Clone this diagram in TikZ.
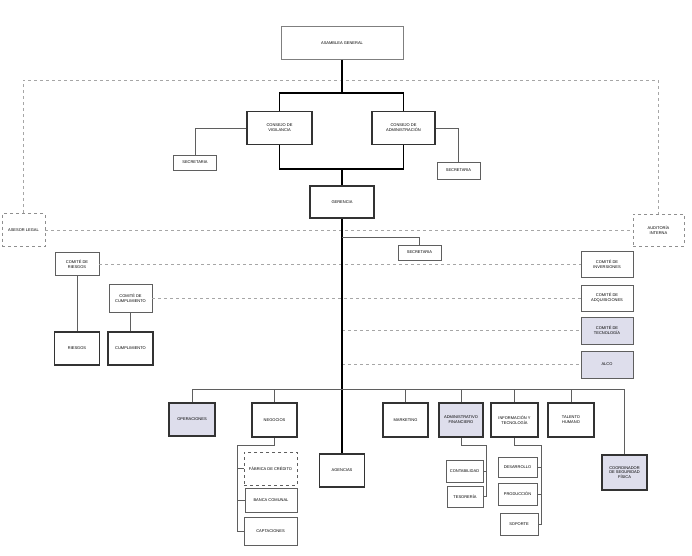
\documentclass[tikz,border=0pt]{standalone}
\usepackage{fontspec}
\setmainfont{Liberation Sans}
\usepackage{tikz}
\usetikzlibrary{calc}
\definecolor{lila}{RGB}{222,222,236}
\definecolor{gris}{RGB}{95,95,95}

\begin{document}
\begin{tikzpicture}[
  box/.style={draw=gris, line width=0.7pt, fill=white, align=center, inner sep=0pt, font=\fontsize{4}{4.8}\selectfont},
  heavybox/.style={box, draw=black!80, line width=1.3pt},
  dashbox/.style={box, dashed, draw=gris!70},
  trunk/.style={line width=1.4pt, black},
  conn/.style={line width=0.6pt, gris},
  dotline/.style={dashed, line width=0.4pt, black!35}
]
\begin{scope}[x=1pt, y=-1pt]
\useasboundingbox (0,0) rectangle (692,555);

\node[box, draw=gris!80, line width=0.9pt, minimum width=122pt, minimum height=33pt] (asam) at (342,43) {ASAMBLEA GENERAL};
\node[heavybox, line width=1.1pt, minimum width=65pt, minimum height=33pt] (vig) at (279.5,128) {CONSEJO DE\\VIGILANCIA};
\node[heavybox, line width=1.1pt, minimum width=63pt, minimum height=33pt] (adm) at (403.5,128) {CONSEJO DE\\ADMINISTRACIÓN};
\node[box, minimum width=43pt, minimum height=15pt] (secv) at (195,162.5) {SECRETARIA};
\node[box, minimum width=43pt, minimum height=17pt] (seca) at (458.5,170.5) {SECRETARIA};
\node[heavybox, line width=1.5pt, minimum width=64pt, minimum height=32pt] (ger) at (342,202) {GERENCIA};
\node[box, minimum width=43pt, minimum height=15pt] (secg) at (419.5,252.5) {SECRETARIA};

\node[dashbox, minimum width=43pt, minimum height=33pt] (ases) at (23.5,230) {ASESOR LEGAL};
\node[dashbox, minimum width=51pt, minimum height=32pt] (aud) at (658.5,230) {AUDITORÍA\\INTERNA};

\node[box, line width=0.9pt, minimum width=44pt, minimum height=23pt] (crie) at (77,264) {COMITÉ DE\\RIESGOS};
\node[box, line width=0.9pt, minimum width=43pt, minimum height=28pt] (ccum) at (130.5,298) {COMITÉ DE\\CUMPLIMIENTO};
\node[heavybox, minimum width=45pt, minimum height=33pt] (rie) at (77,348.5) {RIESGOS};
\node[heavybox, minimum width=45pt, minimum height=33pt] (cum) at (130.5,348.5) {CUMPLIMIENTO};

\node[box, line width=0.9pt, minimum width=52pt, minimum height=26pt] (cinv) at (607,264) {COMITÉ DE\\INVERSIONES};
\node[box, line width=0.9pt, minimum width=52pt, minimum height=26pt] (cadq) at (607,298) {COMITÉ DE\\ADQUISICIONES};
\node[box, line width=0.9pt, fill=lila, minimum width=52pt, minimum height=27pt] (ctec) at (607,330.5) {COMITÉ DE\\TECNOLOGÍA};
\node[box, line width=0.9pt, fill=lila, minimum width=52pt, minimum height=27pt] (alco) at (607,364.5) {ALCO};

\node[heavybox, fill=lila, minimum width=46pt, minimum height=33pt] (oper) at (192,419.5) {OPERACIONES};
\node[heavybox, minimum width=45pt, minimum height=34pt] (neg) at (274.5,420) {NEGOCIOS};
\node[heavybox, minimum width=45pt, minimum height=33pt] (agen) at (342,470.5) {AGENCIAS};
\node[heavybox, minimum width=45pt, minimum height=34pt] (mkt) at (405.5,420) {MARKETING};
\node[heavybox, fill=lila, minimum width=44pt, minimum height=34pt] (adf) at (461,420) {ADMINISTRATIVO\\FINANCIERO};
\node[heavybox, minimum width=47pt, minimum height=34pt] (inf) at (514.5,420) {INFORMACIÓN Y\\TECNOLOGÍA};
\node[heavybox, minimum width=46pt, minimum height=34pt] (tal) at (571,420) {TALENTO\\HUMANO};
\node[heavybox, fill=lila, minimum width=45pt, minimum height=35pt] (coord) at (624.5,472.5) {COORDINADOR\\DE SEGURIDAD\\FÍSICA};

\node[dashbox, line width=0.8pt, draw=gris, minimum width=53pt, minimum height=33pt] (fab) at (270.5,468.5) {FÁBRICA DE CRÉDITO};
\node[box, minimum width=52pt, minimum height=24pt] (banca) at (271,500) {BANCA COMUNAL};
\node[box, minimum width=53pt, minimum height=28pt] (capt) at (270.5,531) {CAPTACIONES};
\node[box, minimum width=37pt, minimum height=22pt] (cont) at (464.5,471) {CONTABILIDAD};
\node[box, minimum width=36pt, minimum height=21pt] (tes) at (465,496.5) {TESORERÍA};
\node[box, minimum width=39pt, minimum height=20pt] (des) at (517.5,467) {DESARROLLO};
\node[box, minimum width=39pt, minimum height=22pt] (prod) at (517.5,494) {PRODUCCIÓN};
\node[box, minimum width=38pt, minimum height=22pt] (sop) at (519,524) {SOPORTE};

\coordinate (tdash) at (342,80);
\coordinate (tb) at (342,93);
\coordinate (bb) at (342,169);
\coordinate (sg) at (342,237);
\coordinate (bus) at (342,389);
\coordinate (nb) at (237,445);
\coordinate (ab) at (486,445);
\coordinate (ib) at (541,445);

\draw[dotline] (ases.north) |- (tdash) -| (aud.north);
\draw[dotline] (ases.east) -- (aud.west);
\draw[dotline] (crie.east) -- (cinv.west);
\draw[dotline] (ccum.east) -- (ccum.east -| cadq.west);
\draw[dotline] (ctec.west -| ger.south) -- (ctec.west);
\draw[dotline] (alco.west -| ger.south) -- (alco.west);

\draw[trunk] (asam.south) -- (tb);
\draw[trunk] (vig.north) |- (tb) -| (adm.north);
\draw[trunk] (vig.south) |- (bb) -| (adm.south);
\draw[trunk] (bb) -- (ger.north);
\draw[trunk] (ger.south) -- (agen.north);

\draw[conn] (vig.west) -| (secv.north);
\draw[conn] (adm.east) -| (seca.north);
\draw[conn] (sg) -| (secg.north);
\draw[conn] (crie.south) -- (rie.north);
\draw[conn] (ccum.south) -- (cum.north);

\draw[conn, line width=0.8pt] (oper.north) |- (bus) -| (coord.north);
\draw[conn, line width=0.8pt] (neg.north) -- (neg.north |- bus);
\draw[conn, line width=0.8pt] (mkt.north) -- (mkt.north |- bus);
\draw[conn, line width=0.8pt] (adf.north) -- (adf.north |- bus);
\draw[conn, line width=0.8pt] (inf.north) -- (inf.north |- bus);
\draw[conn, line width=0.8pt] (tal.north) -- (tal.north |- bus);

\draw[conn] (neg.south) |- (nb) |- (capt.west);
\draw[conn] (nb |- fab.west) -- (fab.west);
\draw[conn] (nb |- banca.west) -- (banca.west);
\draw[conn] (adf.south) |- (ab) |- (tes.east);
\draw[conn] (ab |- cont.east) -- (cont.east);
\draw[conn] (inf.south) |- (ib) |- (sop.east);
\draw[conn] (ib |- des.east) -- (des.east);
\draw[conn] (ib |- prod.east) -- (prod.east);
\end{scope}
\end{tikzpicture}
\end{document}
